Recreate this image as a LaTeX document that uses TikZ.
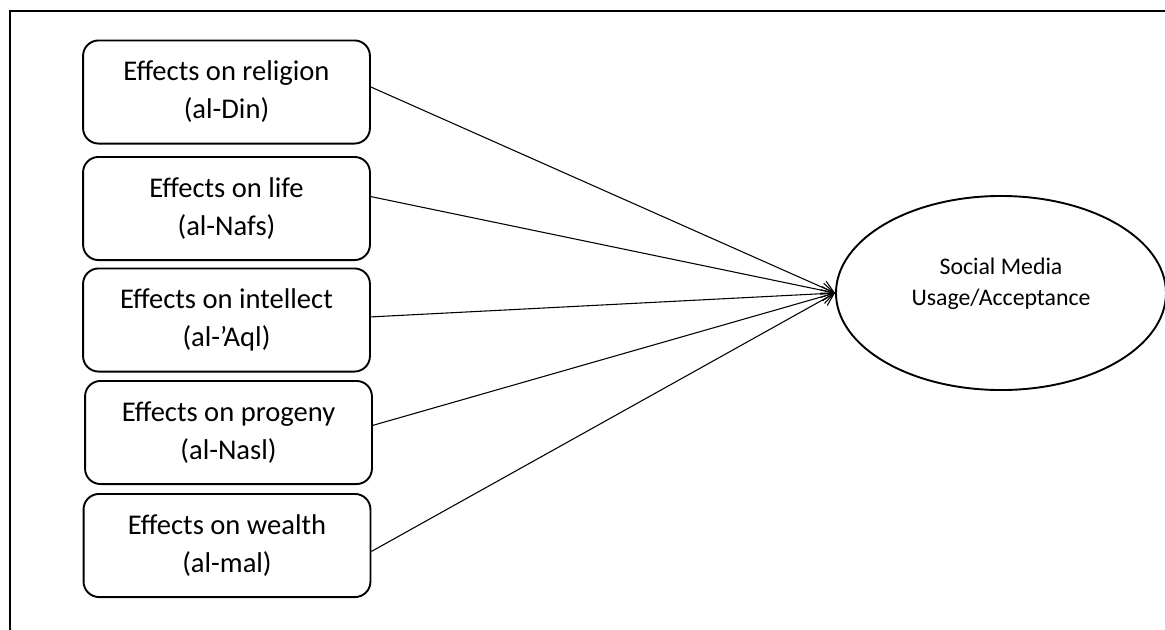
\documentclass[tikz,border=0pt]{standalone}
\usepackage{fontspec}
\setmainfont{Carlito}
\usetikzlibrary{shapes.geometric,arrows.meta}
\begin{document}
\begin{tikzpicture}[x=0.42pt,y=-0.42pt,
  box/.style={draw, line width=0.8pt, rounded corners=6.5pt,
    minimum width=120.5pt, minimum height=43.3pt, inner sep=0pt,
    align=center, font=\fontsize{12}{16}\selectfont},
  conn/.style={line width=0.45pt, -{Straight Barb[length=5pt,width=6pt,line width=0.45pt]}},
  frame/.style={line width=0.9pt}
]
\clip (0,0) rectangle (1165,630);
\draw[frame] (10,11) rectangle (1300,700);

\node[box] (b1) at (226.5,92)  {Effects on religion\\(al-Din)};
\node[box] (b2) at (226.5,208.5) {Effects on life\\(al-Nafs)};
\node[box] (b3) at (226.5,320) {Effects on intellect\\(al-’Aql)};
\node[box] (b4) at (228.5,432.5) {Effects on progeny\\(al-Nasl)};
\node[box] (b5) at (227,545.5) {Effects on wealth\\(al-mal)};

\node[ellipse, draw, line width=0.8pt, minimum width=138.6pt, minimum height=81.5pt, inner sep=0pt,
  label={[font=\fontsize{10}{13}\selectfont, align=center, yshift=3.8pt]center:Social Media\\Usage/Acceptance}]
  (e) at (1001,293) {};

\draw[conn] ([yshift=2.1pt]b1.east) -- (e.west);
\draw[conn] ([yshift=5pt]b2.east) -- (e.west);
\draw[conn] ([yshift=1.3pt]b3.east) -- (e.west);
\draw[conn] ([yshift=3pt]b4.east) -- (e.west);
\draw[conn] ([yshift=-2.5pt]b5.east) -- (e.west);
\end{tikzpicture}
\end{document}
